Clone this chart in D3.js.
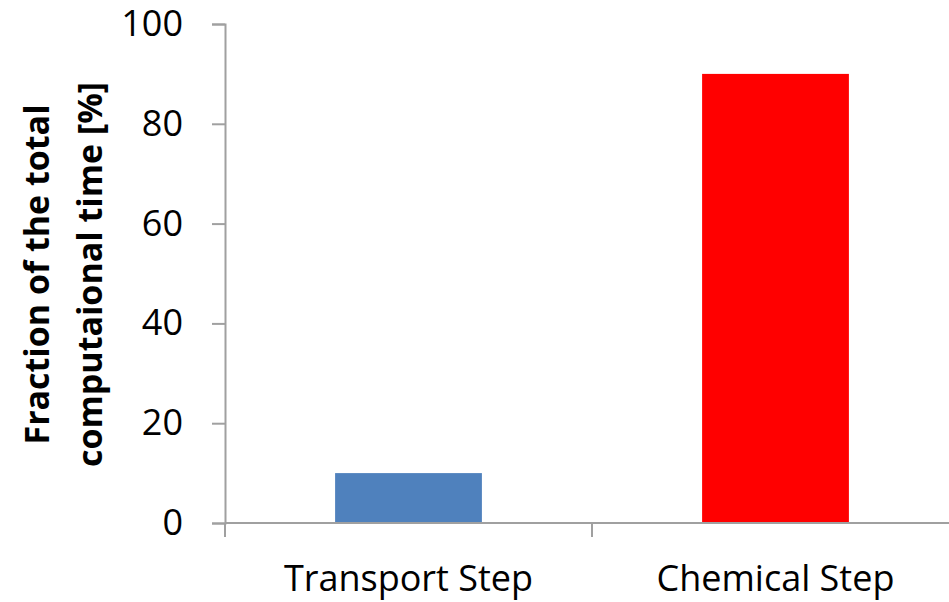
<!DOCTYPE html>
<html>
<head>
<meta charset="utf-8">
<script src="https://cdn.jsdelivr.net/npm/d3@7"></script>
<style>
  body { margin: 0; background: #fff; }
  svg { display: block; font-family: "Open Sans", sans-serif; }
</style>
</head>
<body>
<div id="chart"></div>
<script>
var categories = ["Transport Step", "Chemical Step"];
var fractions = [10, 90];
var barColors = ["#4f81bd", "#ff0000"];
var yTicks = [0, 20, 40, 60, 80, 100];
var yTitle = ["Fraction of the total", "computaional time [%]"];

var width = 949, height = 602;
var margin = {left: 225, right: -10, top: 24, bottom: 79};

var svg = d3.select("#chart").append("svg")
  .attr("width", width)
  .attr("height", height);

var x = d3.scaleBand()
  .domain(categories)
  .range([margin.left, width - margin.right])
  .paddingInner(0.6)
  .paddingOuter(0.3);

var y = d3.scaleLinear()
  .domain([0, 100])
  .range([height - margin.bottom, margin.top]);

// bars
svg.append("g").selectAll("rect")
  .data(categories)
  .enter().append("rect")
  .attr("x", function(d){ return x(d); })
  .attr("y", function(d, i){ return y(fractions[i]); })
  .attr("width", x.bandwidth())
  .attr("height", function(d, i){ return y(0) - y(fractions[i]); })
  .style("fill", function(d, i){ return barColors[i]; });

// y axis
var yAxis = svg.append("g")
  .attr("transform", "translate(" + margin.left + ",0)")
  .call(d3.axisLeft(y).tickValues(yTicks).tickSize(13).tickPadding(29));
yAxis.select(".domain").attr("stroke", "#a0a0a0").attr("stroke-width", 2);
yAxis.selectAll(".tick line").attr("stroke", "#a0a0a0").attr("stroke-width", 2);
yAxis.selectAll(".tick text")
  .attr("font-size", "36px")
  .attr("font-family", "Open Sans, sans-serif")
  .attr("fill", "#000");

// x axis with ticks at category boundaries
var xAxisG = svg.append("g")
  .attr("transform", "translate(0," + y(0) + ")");
xAxisG.append("line")
  .attr("x1", margin.left).attr("x2", width)
  .attr("stroke", "#a0a0a0").attr("stroke-width", 2);
var bounds = [margin.left].concat(categories.map(function(c){ return x(c) + x.bandwidth() / 2 + x.step() / 2; }));
xAxisG.selectAll(".sep")
  .data(bounds)
  .enter().append("line")
  .attr("class", "sep")
  .attr("x1", function(d){ return d; }).attr("x2", function(d){ return d; })
  .attr("y1", 0).attr("y2", 14)
  .attr("stroke", "#a0a0a0").attr("stroke-width", 2);
xAxisG.selectAll(".cat")
  .data(categories)
  .enter().append("text")
  .attr("class", "cat")
  .attr("x", function(d){ return x(d) + x.bandwidth() / 2; })
  .attr("y", 68)
  .attr("text-anchor", "middle")
  .attr("font-size", "36px")
  .text(function(d){ return d; });

// y title
var title = svg.append("text")
  .attr("transform", "translate(49," + ((y(0) + y(100)) / 2 + 1) + ") rotate(-90)")
  .attr("text-anchor", "middle")
  .attr("font-size", "34px")
  .attr("font-weight", "bold");
title.selectAll("tspan")
  .data(yTitle)
  .enter().append("tspan")
  .attr("x", 0)
  .attr("dy", function(d, i){ return i == 0 ? 0 : 53; })
  .text(function(d){ return d; });
</script>
</body>
</html>
